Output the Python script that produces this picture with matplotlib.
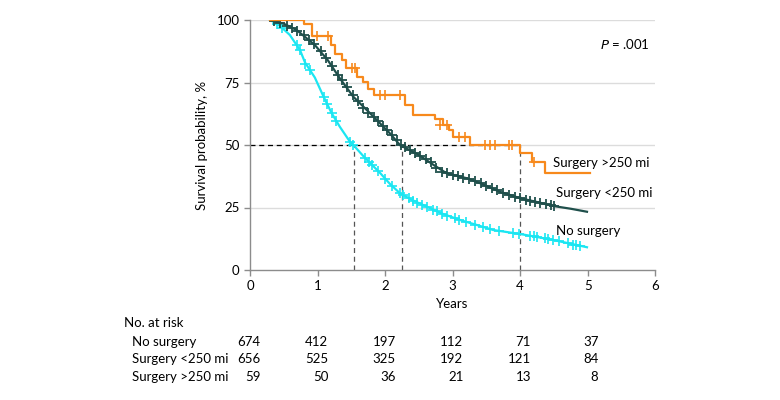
import numpy as np
import matplotlib
matplotlib.use('Agg')
from matplotlib import pyplot as plt

plt.rcParams['font.family'] = ['Lato', 'DejaVu Sans']

# Surgery >250 mi: step curve (time in years, survival %)
far_t = [0.30, 0.805, 0.914, 1.20, 1.26, 1.36, 1.42, 1.58, 1.68, 1.75, 1.83,
         2.30, 2.42, 2.74, 2.86, 2.94, 3.01, 3.26, 4.00, 4.17, 4.37, 5.04]
far_s = [100, 98.4, 93.6, 90.0, 86.4, 84.0, 80.7, 77.1, 75.3, 72.3, 70.0,
         66.0, 62.0, 60.3, 58.0, 56.0, 53.3, 50.0, 46.7, 43.1, 38.9, 38.9]
far_cens_t = [0.99, 1.16, 1.51, 1.55, 1.93, 2.00, 2.22, 2.81, 2.91, 3.09, 3.19,
              3.48, 3.55, 3.63, 3.83, 3.88, 4.20]
far_cens_s = [93.6, 93.6, 80.7, 80.7, 70.0, 70.0, 70.0, 58.0, 58.0, 53.3, 53.3,
              50.0, 50.0, 50.0, 50.0, 50.0, 43.1]

# Surgery <250 mi
near_t = [0.30, 0.50, 0.69, 0.96, 1.15, 1.33, 1.53, 1.83, 2.07, 2.22, 2.50,
          2.72, 2.91, 3.21, 3.41, 3.70, 4.00, 4.25, 4.49, 4.75, 4.99]
near_s = [100, 98.5, 96.0, 90.0, 84.0, 76.7, 69.3, 61.3, 54.7, 50.0, 46.0,
          42.0, 38.7, 36.7, 34.7, 31.3, 28.7, 27.2, 25.6, 24.5, 23.3]
near_cens_t = [0.35, 0.45, 0.55, 0.62, 0.70, 0.80, 0.88, 0.95, 1.05, 1.13, 1.22,
               1.30, 1.36, 1.44, 1.52, 1.60, 1.68, 1.75, 1.83, 1.90, 1.97, 2.03,
               2.10, 2.17, 2.24, 2.30, 2.37, 2.44, 2.52, 2.60, 2.68, 2.76, 2.84,
               2.92, 3.00, 3.08, 3.16, 3.25, 3.33, 3.42, 3.50, 3.58, 3.66, 3.75,
               3.83, 3.92, 4.00, 4.08, 4.15, 4.22, 4.30, 4.38, 4.46, 4.50]
near_cens_s = [99.6, 98.8, 97.8, 97.0, 95.8, 93.9, 92.0, 90.3, 87.5, 85.0, 81.6,
               78.2, 75.9, 73.2, 70.2, 67.5, 64.9, 63.0, 61.3, 59.5, 57.8, 56.1,
               54.2, 52.2, 50.2, 49.2, 48.2, 47.0, 45.6, 44.4, 43.1, 41.0, 39.4,
               38.7, 38.2, 37.6, 36.9, 36.4, 35.6, 34.8, 33.8, 32.8, 31.9, 30.9,
               30.2, 29.4, 28.7, 28.2, 27.8, 27.4, 27.0, 26.4, 25.9, 25.6]

# No surgery
none_t = [0.30, 0.45, 0.59, 0.74, 0.815, 0.96, 1.09, 1.21, 1.33, 1.48, 1.53,
          1.68, 1.93, 2.07, 2.22, 2.40, 2.62, 2.85, 3.11, 3.36, 3.60, 3.80,
          4.00, 4.25, 4.49, 4.75, 4.99]
none_s = [100, 97.5, 94.0, 88.0, 83.0, 77.0, 69.3, 62.7, 57.3, 51.3, 50.0,
          45.5, 38.7, 34.5, 30.7, 28.0, 25.3, 22.5, 20.0, 18.0, 16.0, 15.2,
          14.4, 13.2, 12.0, 10.5, 9.1]
none_cens_t = [0.395, 0.47, 0.69, 0.74, 0.82, 0.89, 1.09, 1.14, 1.21, 1.28, 1.48,
               1.53, 1.71, 1.76, 1.81, 1.90, 2.00, 2.10, 2.22, 2.27, 2.35, 2.42,
               2.48, 2.55, 2.62, 2.71, 2.77, 2.85, 2.92, 3.03, 3.10, 3.20, 3.33,
               3.45, 3.56, 3.69, 3.89, 3.98, 4.14, 4.21, 4.25, 4.37, 4.42, 4.48,
               4.58, 4.71, 4.79, 4.83, 4.88]
none_cens_s = [98.3, 97.0, 90.0, 88.0, 82.3, 80.0, 69.3, 66.6, 62.7, 59.5, 51.3,
               50.0, 44.7, 43.3, 42.0, 39.5, 36.6, 33.7, 30.7, 30.0, 28.8, 27.8,
               27.0, 26.2, 25.3, 24.2, 23.5, 22.5, 21.8, 20.8, 20.1, 19.3, 18.2,
               17.2, 16.3, 15.6, 14.9, 14.6, 13.8, 13.5, 13.2, 12.7, 12.4, 12.1,
               11.5, 10.7, 10.2, 9.9, 9.5]

medians = [1.54, 2.25, 4.0]

risk_times = [0, 1, 2, 3, 4, 5]
risk_labels = ['No surgery', 'Surgery <250 mi', 'Surgery >250 mi']
risk_none = [674, 412, 197, 112, 71, 37]
risk_near = [656, 525, 325, 192, 121, 84]
risk_far = [59, 50, 36, 21, 13, 8]

c_far = '#F7891C'
c_near = '#1F4F4B'
c_none = '#1BE6F2'
gray = '#8c8c8c'

fig = plt.figure(figsize=(7.8, 4), dpi=100)
ax = fig.add_axes([0.3205, 0.325, 0.5195, 0.625])

for y in [25, 50, 75, 100]:
    ax.axhline(y, color='#dcdcdc', lw=1, zorder=0)
ax.plot([0, medians[-1]], [50, 50], color='black', lw=0.9, ls=(0, (4, 3)), zorder=1)
for m in medians:
    ax.plot([m, m], [0, 50], color='#555555', lw=0.9, ls=(0, (4, 3)), zorder=1)

ax.plot(none_t, none_s, color=c_none, lw=1.6, zorder=3)
ax.plot(none_cens_t, none_cens_s, ls='none', marker='+', ms=7, mew=1.2, color=c_none, zorder=3)
ax.plot(near_t, near_s, color=c_near, lw=1.6, zorder=4)
ax.plot(near_cens_t, near_cens_s, ls='none', marker='+', ms=7, mew=1.3, color=c_near, zorder=4)
ax.step(far_t, far_s, where='post', color=c_far, lw=1.6, zorder=5)
ax.plot(far_cens_t, far_cens_s, ls='none', marker='+', ms=7, mew=1.2, color=c_far, zorder=5)

fs = 9.5
ax.text(5.18, 90.4, '$P$ = .001', fontsize=fs, va='center', ha='left')
ax.text(4.49, 42.7, 'Surgery >250 mi', fontsize=fs, va='center', ha='left')
ax.text(4.53, 30.9, 'Surgery <250 mi', fontsize=fs, va='center', ha='left')
ax.text(4.53, 15.6, 'No surgery', fontsize=fs, va='center', ha='left')

ax.set_xlim(0, 6)
ax.set_ylim(0, 100)
ax.set_xticks(range(7))
ax.set_yticks([0, 25, 50, 75, 100])
ax.tick_params(labelsize=fs, color=gray, length=4, width=1)
for s in ['top', 'right']:
    ax.spines[s].set_visible(False)
for s in ['left', 'bottom']:
    ax.spines[s].set_color(gray)
    ax.spines[s].set_linewidth(1)
ax.set_xlabel('Years', fontsize=fs, labelpad=4)
ax.set_ylabel('Survival probability, %', fontsize=fs, labelpad=6)

# number at risk table
tr = ax.get_xaxis_transform()
fig.text(124 / 780, 1 - 323 / 400, 'No. at risk', fontsize=fs, va='center', ha='left')
rows = [risk_none, risk_near, risk_far]
row_y = [341.7, 359.3, 377.3]
for lab, vals, py in zip(risk_labels, rows, row_y):
    fig.text(132 / 780, 1 - py / 400, lab, fontsize=fs, va='center', ha='left')
    yy = (270 - py) / 250
    for t, v in zip(risk_times, vals):
        ax.text(t + 0.16, yy, str(v), fontsize=fs, va='center', ha='right',
                transform=tr, clip_on=False)

fig.savefig('out.png', dpi=100)
